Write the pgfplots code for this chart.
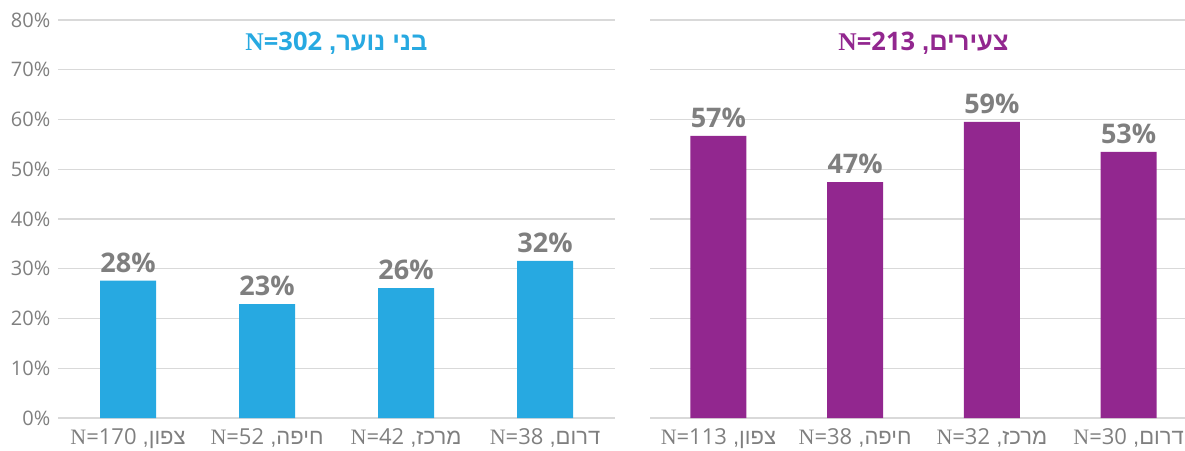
\documentclass[border=0pt]{standalone}
\usepackage{fontspec}
\setmainfont{Open Sans}
\newfontfamily\heb[Script=Hebrew]{Liberation Sans}
\newfontfamily\lat{Open Sans}
\newfontfamily\nf{Liberation Serif}
\usepackage{pgfplots}
\pgfplotsset{compat=1.18}
\TeXXeTstate=1
\definecolor{cblue}{HTML}{27A9E1}
\definecolor{cpurp}{HTML}{92278F}
\definecolor{gridc}{HTML}{D9D9D9}
\definecolor{txt}{HTML}{7F7F7F}
\newcommand{\lab}[2]{\beginR #1, \beginL{\nf N}{\lat =#2}\endL\endR}
\pgfplotsset{mybar/.style={
  scale only axis, height=398pt, ymin=0, ymax=80, xmin=-0.5, xmax=3.5,
  ytick={0,10,...,80}, ymajorgrids, major grid style={gridc, line width=1.2pt},
  axis line style={draw=none}, major tick length=0pt, xtick={0,1,2,3},
  ybar, bar width=56pt,
  nodes near coords, point meta=explicit symbolic,
  every node near coord/.append style={font=\fontsize{27}{27}\selectfont\bfseries, text=txt, inner sep=0pt, anchor=south, yshift=8pt},
  xticklabel style={font=\heb\fontsize{22}{22}\selectfont, text=txt, inner sep=0pt, anchor=north, yshift=-10pt},
  yticklabel style={font=\fontsize{20}{20}\selectfont, text=txt, inner sep=0pt, anchor=east, xshift=-8pt},
  anchor=south west, clip=false
}}
\begin{document}
\begin{tikzpicture}
\useasboundingbox (0,0) rectangle (1185pt,450pt);
\begin{axis}[mybar, width=556pt, at={(58.5pt,32pt)},
  yticklabels={0\%,10\%,20\%,30\%,40\%,50\%,60\%,70\%,80\%},
  xticklabels={{\lab{צפון}{170}},{\lab{חיפה}{52}},{\lab{מרכז}{42}},{\lab{דרום}{38}}}]
\addplot[fill=cblue, draw=none] coordinates {(0,27.6) [28\%] (1,22.9) [23\%] (2,26.1) [26\%] (3,31.6) [32\%]};
\node[text=cblue, font=\heb\bfseries\fontsize{25.5}{25.5}\selectfont] at (rel axis cs:0.5,0.942) {\beginR בני נוער, \beginL{\nf\bfseries N}{\lat\bfseries =302}\endL\endR};
\end{axis}
\begin{axis}[mybar, width=547pt, at={(650pt,32pt)},
  yticklabels={},
  xticklabels={{\lab{צפון}{113}},{\lab{חיפה}{38}},{\lab{מרכז}{32}},{\lab{דרום}{30}}}]
\addplot[fill=cpurp, draw=none] coordinates {(0,56.7) [57\%] (1,47.4) [47\%] (2,59.5) [59\%] (3,53.5) [53\%]};
\node[text=cpurp, font=\heb\bfseries\fontsize{25.5}{25.5}\selectfont] at (rel axis cs:0.5,0.942) {\beginR צעירים, \beginL{\nf\bfseries N}{\lat\bfseries =213}\endL\endR};
\end{axis}
\end{tikzpicture}
\end{document}
